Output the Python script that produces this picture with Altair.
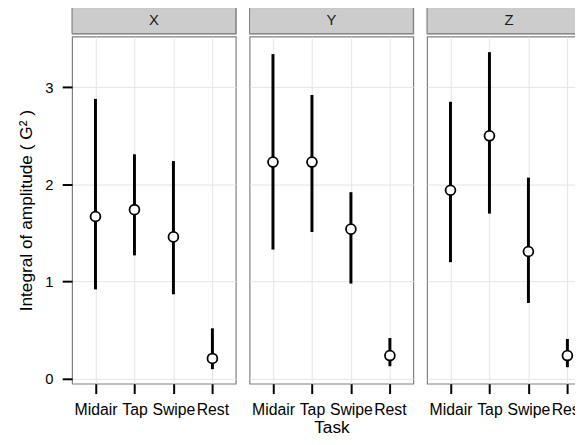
import altair as alt
import pandas as pd

panels = ["X", "Y", "Z"]
tasks = ["Midair", "Tap", "Swipe", "Rest"]

mean_x = [1.67, 1.74, 1.46, 0.21]
lo_x = [0.92, 1.27, 0.87, 0.10]
hi_x = [2.88, 2.31, 2.24, 0.52]

mean_y = [2.23, 2.23, 1.54, 0.24]
lo_y = [1.33, 1.51, 0.98, 0.13]
hi_y = [3.34, 2.92, 1.92, 0.42]

mean_z = [1.94, 2.50, 1.31, 0.24]
lo_z = [1.20, 1.70, 0.78, 0.12]
hi_z = [2.85, 3.36, 2.07, 0.41]

means = [mean_x, mean_y, mean_z]
los = [lo_x, lo_y, lo_z]
his = [hi_x, hi_y, hi_z]

rows = []
for p, m, l, h in zip(panels, means, los, his):
    for t, mv, lv, hv in zip(tasks, m, l, h):
        rows.append({"panel": p, "task": t, "mean": mv, "lo": lv, "hi": hv})
df = pd.DataFrame(rows)

W = 166
H = 352
SH = 27
FONT = "Liberation Sans"
YTITLE = "Integral of amplitude ( G\u00b2 )"


def panel(i, name):
    first = i == 0
    mid = i == 1
    yaxis = alt.Axis(
        values=[0, 1, 2, 3],
        grid=True,
        gridColor="#e5e5e5",
        gridWidth=1,
        domain=False,
        ticks=first,
        labels=first,
        tickColor="black",
        tickWidth=2,
        tickSize=10,
        labelPadding=9.5,
        labelFontSize=15,
        labelColor="black",
        title=YTITLE if first else None,
        titleFontSize=17.5,
        titleFontWeight="normal",
        titleColor="black",
        titlePadding=9.5,
    )
    xaxis = alt.Axis(
        grid=True,
        gridColor="#e5e5e5",
        gridWidth=1,
        domain=False,
        tickColor="black",
        tickWidth=2,
        tickSize=10,
        labelPadding=8,
        labelFontSize=16,
        labelColor="black",
        labelAngle=0,
        title="Task" if mid else None,
        titleFontSize=17.5,
        titleFontWeight="normal",
        titleColor="black",
        titlePadding=1,
    )
    xs = alt.X("task:N", sort=tasks, scale=alt.Scale(type="point", padding=0.6), axis=xaxis)
    ysc = alt.Scale(domain=[-0.05, 3.52], nice=False, zero=False)
    base = alt.Chart(df).transform_filter(alt.datum.panel == name)
    rule = base.mark_rule(color="black", strokeWidth=3).encode(
        x=xs,
        y=alt.Y("lo:Q", scale=ysc, axis=yaxis),
        y2="hi:Q",
    )
    pts = base.mark_point(
        shape="circle", filled=True, fill="white", stroke="black", strokeWidth=1.8, size=100, opacity=1
    ).encode(
        x=xs,
        y=alt.Y("mean:Q", scale=ysc, axis=yaxis),
    )
    main = alt.layer(rule, pts).properties(width=W, height=H)

    sdf = pd.DataFrame({"panel": [name]})
    sbase = alt.Chart(sdf)
    srect = sbase.mark_rect(fill="#cccccc", stroke="#7f7f7f", strokeWidth=1).encode(
        x=alt.value(0), x2=alt.value(W), y=alt.value(0.5), y2=alt.value(SH)
    )
    stext = sbase.mark_text(fontSize=15, color="#1a1a1a", font=FONT, baseline="middle").encode(
        x=alt.value(W / 2), y=alt.value(SH / 2), text="panel:N"
    )
    strip = alt.layer(srect, stext).properties(width=W, height=SH)
    return alt.vconcat(strip, main, spacing=0)


chart = alt.hconcat(*[panel(i, n) for i, n in enumerate(panels)], spacing=10).properties(
    padding={"left": 9, "top": -5, "right": -18, "bottom": -3}
).configure(font=FONT).configure_view(stroke="#7f7f7f", strokeWidth=1.2)

chart.save("out.html", embed_options={"renderer": "svg", "actions": False})
